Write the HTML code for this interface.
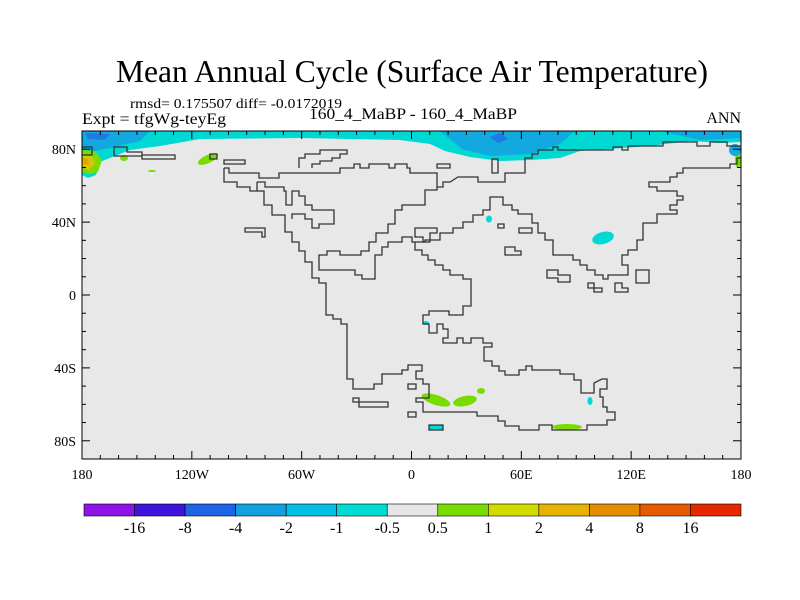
<!DOCTYPE html>
<html><head><meta charset="utf-8"><style>
body{margin:0;background:#fff;}
svg{display:block;font-family:"Liberation Serif",serif;}
</style></head><body>
<svg width="800" height="600" viewBox="0 0 800 600">
<rect width="800" height="600" fill="#fff"/>
<text x="412" y="82" font-size="32" text-anchor="middle" textLength="592" lengthAdjust="spacingAndGlyphs">Mean Annual Cycle (Surface Air Temperature)</text>
<text x="130" y="108" font-size="14" textLength="212" lengthAdjust="spacingAndGlyphs">rmsd= 0.175507 diff= -0.0172019</text>
<text x="82" y="124" font-size="16" textLength="144" lengthAdjust="spacingAndGlyphs">Expt = tfgWg-teyEg</text>
<text x="413" y="119" font-size="16" text-anchor="middle" textLength="208" lengthAdjust="spacingAndGlyphs">160_4_MaBP - 160_4_MaBP</text>
<text x="741" y="123" font-size="16" text-anchor="end">ANN</text>

<g>
<rect x="82" y="131" width="659" height="328" fill="#e8e8e8"/>
<g>
<path fill="#00d8d4" d="M82,131 H741 V142 L720,143 L690,141 L650,146 L610,149 L580,151 L560,158 L530,160 L500,161 L470,157 L445,151 L430,144 L400,140 L300,138 L200,139 L160,146 L130,150 L100,162 L96,175 L88,178 L82,175 Z"/>
<path fill="#12a8e0" d="M82,131 H150 L140,141 L110,148 L95,151 L82,149 Z M440,131 H575 L560,144 L530,154 L490,156 L462,149 Z M660,131 H741 V138 L700,140 Z"/>
<path fill="#1e78e6" d="M490,137 L500,133 L508,139 L498,143 Z M85,133 L110,134 L105,140 L88,139 Z"/>
<path fill="#78dc00" d="M82,150 L95,151 L102,160 L98,172 L90,174 L82,172 Z"/>
<path fill="#d2c800" d="M82,155 L92,156 L95,164 L89,170 L82,168 Z"/>
<path fill="#e6a000" d="M82,158 L88,159 L89,165 L82,164 Z"/>
<ellipse cx="208" cy="159" rx="11" ry="4" transform="rotate(-25 208 159)" fill="#78dc00"/>
<ellipse cx="124" cy="158" rx="4" ry="3" fill="#78dc00"/>
<ellipse cx="152" cy="171" rx="4" ry="1" fill="#78dc00"/>
<ellipse cx="603" cy="238" rx="11" ry="6" transform="rotate(-15 603 238)" fill="#00d8d4"/>
<ellipse cx="489" cy="219" rx="3" ry="3.5" fill="#00d8d4"/>
<ellipse cx="436" cy="400" rx="15" ry="5" transform="rotate(18 436 400)" fill="#78dc00"/>
<ellipse cx="465" cy="401" rx="12" ry="5" transform="rotate(-12 465 401)" fill="#78dc00"/>
<ellipse cx="481" cy="391" rx="4" ry="3" fill="#78dc00"/>
<ellipse cx="567" cy="427" rx="15" ry="3" fill="#78dc00"/>
<ellipse cx="590" cy="401" rx="2.5" ry="4" fill="#00d8d4"/>
<ellipse cx="738" cy="160" rx="3" ry="8" fill="#78dc00"/>
<ellipse cx="735" cy="150" rx="6" ry="6" fill="#12a8e0"/>
<ellipse cx="426" cy="323" rx="3" ry="2" fill="#00d8d4"/>
<rect x="429" y="425" width="14" height="5" fill="#00d8d4"/>
</g>
<g fill="none" stroke="#333" stroke-width="1.3">
<path d="M224,160 H245 V164 H224 Z"/>
<path d="M224,168 H229 V173 H259 V178 H279 V173 H340 V168 H354 V164 H360 V168 H369 V164 H389 V168 H395 V164 H407 V168 H410 V173 H437 V187 H443 V182 H450 L458,177 H478 V182 H505 V173 H525 V158 H532 V154 H538 V150 H553 V147 H558 V150 H613 V147 H622 V150 H628 V146 H663 V142 H697 V146 H710 V142 H727 V146 H741"/>
<path d="M224,168 V182 H237 V187 H250 V191 H264 V205 H272 V215 H285 V232 H292 V242 H299 V251 H305 V262 H312 V278 H319 V283 H326 V315 H333 V319 H341 V324 H347 V379 H353 V389 H374 V384 H382 V374 H402 V370 H408 V365 H422 V371 H416 V379 H423 V384 H429 V398 H416 V402 H423 V412 H477 V416 H498 V421 H505 V426 H519 V430 H539 V425 H552 V430 H587 V425 H607 V420 H615 V412 H607 V407 H603 V397 H600 V389 H607 V379 H602 L594,383 V393 H581 V380 H574 V374 H560 V370 H532 V366 H526 V370 H519 V375 H505 V371 H499 V366 H492 V361 H484 V347 H492 V343 H483 V338 H471 V343 H463 V338 H457 V343 H443 V338 H448 V329 H443 V324 H437 V333 H429 V324 H423 V315 H429 V311 H449 V315 H463 V306 H471 V279 H463 V275 H450 V270 H443 V265 H435 V260 H428 V255 H422 V250 H415 V242 H425 V240 H440 V233 H453 V228 H463 V222 H473 V215 H483 V210 H490 V197 H503 V205 H512 V210 H518 V214 H532 V223 H538 V233 H545 V240 H553 V255 H573 V260 H580 V265 H587 V270 H595 V275 H603 V279 H608 V275 H628 V265 H622 V255 H628 V250 H637 V240 H643 V223 H657 V214 H677 V210 H670 V205 H677 V200 H683 V196 H677 V191 H657 V187 H649 V182 H670 V177 H677 V173 H683 V168 H730 V164 H737 V158 H741"/>
<path d="M437,187 V190 H425 V205 H412 H402 V210 H395 V224 H388 V233 H376 V242 H369 V251 H361 V255 H340 V251 H327 V255 H319 V270 H345 V270 H355 V275 H362 V279 H375 V255 H382 V247 H388 V242 H402 V237 H412 V242 H415"/>
<path d="M257,182 H265 V187 H284 V191 H286 V205 H292 V191 H299 V196 H305 V205 H312 V210 H334 V224 H319 V228 H312 V219 H305 V214 H292 V219"/>
<path d="M257,182 V191"/>
<path d="M245,228 H265 V237 H262 V232 H245 Z"/>
<path d="M299,168 V158 H305 V154 H320 V150 H347 V154 H340 V158 H332 V161 H320 V164 H312 V168"/>
<path d="M114,147 H127 V152 H142 V155 H175 V159 H142 V156 H114 Z"/>
<path d="M210,154 H217 V159 H210 Z"/>
<path d="M82,147 H92 V155 H82"/>
<path d="M437,164 H450 V168 H437 Z M492,159 H498 V173 H492 Z M498,224 H504 V228 H498 Z M519,228 H532 V233 H519 Z M505,247 H515 V251 H521 V255 H505 Z M547,270 H558 V275 H570 V282 H558 V278 H547 Z M588,283 H594 V288 H602 V292 H594 V288 H588 Z M615,283 H622 V288 H628 V292 H615 Z M636,270 H649 V283 H636 Z M415,228 V237 H423 V242 H430 V233 H437 V228 Z"/>
<path d="M408,384 H416 V389 H408 Z M353,398 H359 V402 H388 V407 H359 V402 H353 Z M408,412 H416 V417 H408 Z M429,425 H443 V430 H429 Z"/>
</g>
<rect x="82" y="131" width="659" height="328" fill="none" stroke="#000" stroke-width="1"/>
<g id="ticks" stroke="#000" stroke-width="1"></g>
<g id="labels" font-size="14"></g>
</g>

<g id="colorbar"></g>

<script>
const lonTicks=[-180,-120,-60,0,60,120,180];
const lonTickLabels=["180","120W","60W","0","60E","120E","180"];
const latTicks=[80,40,0,-40,-80];
const latTickLabels=["80N","40N","0","40S","80S"];
const cbLevels=["-16","-8","-4","-2","-1","-0.5","0.5","1","2","4","8","16"];
const cbColors=["#8c14e6","#3c14dc","#1e64e6","#14a0e0","#00c0e6","#00dcd2","#e6e6e6","#78dc00","#d2dc00","#e6b400","#e68c00","#e65a00","#e62800"];
const NS="http://www.w3.org/2000/svg";
const X0=82,X1=741,Y0=131,Y1=459;
function xLon(l){return X0+(l+180)/360*(X1-X0);}
function yLat(l){return Y0+(90-l)/180*(Y1-Y0);}
const tg=document.getElementById('ticks'),lg=document.getElementById('labels');
function ln(x1,y1,x2,y2){const e=document.createElementNS(NS,'line');e.setAttribute('x1',x1);e.setAttribute('y1',y1);e.setAttribute('x2',x2);e.setAttribute('y2',y2);


tg.appendChild(e);}
for(let l=-170;l<180;l+=10){const x=xLon(l),L=(l%60===0)?8:4;ln(x,Y0,x,Y0+L);ln(x,Y1,x,Y1-L);}
for(let l=-80;l<=80;l+=10){const y=yLat(l),L=(l%40===0)?8:4;ln(X0,y,X0+L,y);ln(X1,y,X1-L,y);}
lonTicks.forEach((l,i)=>{const t=document.createElementNS(NS,'text');t.setAttribute('x',xLon(l));t.setAttribute('y',Y1+20);t.setAttribute('text-anchor','middle');t.textContent=lonTickLabels[i];


lg.appendChild(t);});
latTicks.forEach((l,i)=>{const t=document.createElementNS(NS,'text');t.setAttribute('x',X0-6);t.setAttribute('y',yLat(l)+5);t.setAttribute('text-anchor','end');t.textContent=latTickLabels[i];


lg.appendChild(t);});
const cb=document.getElementById('colorbar');
const CB0=84,CB1=741,CBY=504,CBH=12,bw=(CB1-CB0)/cbColors.length;
cbColors.forEach((c,i)=>{const r=document.createElementNS(NS,'rect');r.setAttribute('x',CB0+i*bw);r.setAttribute('y',CBY);r.setAttribute('width',bw);r.setAttribute('height',CBH);r.setAttribute('fill',c);r.setAttribute('stroke','#000');r.setAttribute('stroke-width','0.6');


cb.appendChild(r);});
cbLevels.forEach((s,i)=>{const t=document.createElementNS(NS,'text');t.setAttribute('x',CB0+(i+1)*bw);t.setAttribute('y',533);t.setAttribute('text-anchor','middle');t.setAttribute('font-size','16');t.textContent=s;


cb.appendChild(t);});
</script>
</svg>
</body></html>
